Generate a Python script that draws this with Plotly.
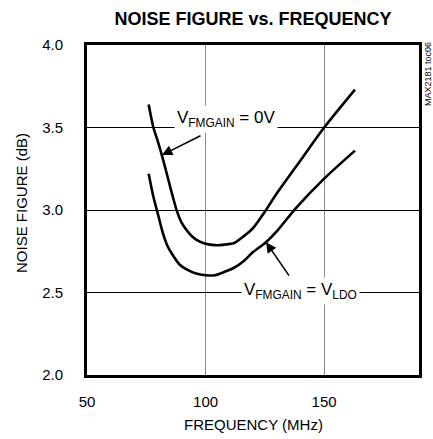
import plotly.graph_objects as go

# --- data ---
freq_0v = [76, 78, 80, 82, 84, 86, 88, 90, 93, 96, 100, 104, 108, 112, 116, 120, 125, 130, 140, 150, 163]
nf_0v = [3.64, 3.50, 3.41, 3.31, 3.20, 3.09, 2.99, 2.92, 2.86, 2.82, 2.795, 2.787, 2.79, 2.80, 2.84, 2.89, 2.99, 3.10, 3.30, 3.50, 3.73]

freq_ldo = [76, 78, 80, 82, 84, 86, 89, 92, 96, 100, 104, 108, 112, 116, 120, 125.5, 130, 138, 150, 163]
nf_ldo = [3.22, 3.08, 2.97, 2.86, 2.78, 2.73, 2.67, 2.64, 2.615, 2.605, 2.605, 2.625, 2.65, 2.69, 2.745, 2.805, 2.87, 3.01, 3.19, 3.36]

x_ticks = [50, 100, 150]
y_ticks = [2.0, 2.5, 3.0, 3.5, 4.0]

FONT = "Liberation Sans Narrow, Arial Narrow, Liberation Sans, Arial, sans-serif"

L, R, T, B, W, H = 87, 14, 45, 64, 433, 439
PW, PH = W - L - R, H - T - B


def px(xp):
    return (xp - L) / PW


def py(yp):
    return (H - B - yp) / PH


fig = go.Figure()
fig.add_trace(go.Scatter(x=freq_0v, y=nf_0v, mode="lines",
                         line=dict(color="black", width=2.6, shape="spline", smoothing=0.8),
                         showlegend=False, hoverinfo="skip"))
fig.add_trace(go.Scatter(x=freq_ldo, y=nf_ldo, mode="lines",
                         line=dict(color="black", width=2.6, shape="spline", smoothing=0.8),
                         showlegend=False, hoverinfo="skip"))

# curve labels (white boxes break the grid lines)
fig.add_annotation(x=108.8, y=3.55, text="V<sub>FMGAIN</sub> = 0V", showarrow=False,
                   xanchor="center", yanchor="middle",
                   font=dict(family=FONT, size=17, color="black"), bgcolor="white", borderpad=2)
fig.add_annotation(x=139.9, y=2.51, text="V<sub>FMGAIN</sub> = V<sub>LDO</sub>", showarrow=False,
                   xanchor="center", yanchor="middle",
                   font=dict(family=FONT, size=17, color="black"), bgcolor="white", borderpad=2)

# arrows
fig.add_annotation(x=81.6, y=3.333, text="", showarrow=True, ax=40, ay=-20,
                   arrowhead=2, arrowsize=1.3, arrowwidth=1.6, arrowcolor="black")
fig.add_annotation(x=125.5, y=2.805, text="", showarrow=True, ax=24, ay=35,
                   arrowhead=2, arrowsize=1.3, arrowwidth=1.6, arrowcolor="black")

fig.add_annotation(x=px(428), y=py(74), xref="paper", yref="paper",
                   xanchor="center", yanchor="middle",
                   text="MAX2181 toc06", showarrow=False, textangle=-90,
                   font=dict(family=FONT, size=9, color="black"))

# axis titles placed as text
fig.add_annotation(x=px(253), y=py(424), xref="paper", yref="paper",
                   xanchor="center", yanchor="middle",
                   text="FREQUENCY (MHz)", showarrow=False,
                   font=dict(family=FONT, size=15, color="black"))
fig.add_annotation(x=px(21), y=py(203), xref="paper", yref="paper",
                   xanchor="center", yanchor="middle",
                   text="NOISE FIGURE (dB)", showarrow=False, textangle=-90,
                   font=dict(family=FONT, size=15, color="black"))

fig.update_layout(
    width=W, height=H,
    margin=dict(l=L, r=R, t=T, b=B, autoexpand=False),
    paper_bgcolor="white", plot_bgcolor="white",
    font=dict(family=FONT, size=15, color="black"),
    title=dict(text="<b>NOISE FIGURE vs. FREQUENCY</b>", x=253 / W, xanchor="center",
               y=1 - 19 / H, yanchor="middle", yref="container",
               font=dict(family=FONT, size=18, color="black")),
)

fig.update_xaxes(range=[50, 190], tickvals=x_ticks, ticktext=[str(v) for v in x_ticks],
                 showgrid=True, gridcolor="#8a8a8a", gridwidth=1.2,
                 showline=True, linecolor="black", linewidth=3, mirror=True,
                 ticks="", ticklabelstandoff=11, zeroline=False, automargin=False,
                 tickfont=dict(family=FONT, size=15))
fig.update_yaxes(range=[2.0, 4.0], tickvals=y_ticks, ticktext=[f"{v:.1f}" for v in y_ticks],
                 showgrid=True, gridcolor="black", gridwidth=1,
                 showline=True, linecolor="black", linewidth=3, mirror=True,
                 ticks="", ticklabelstandoff=18, zeroline=False, automargin=False,
                 tickfont=dict(family=FONT, size=15))

fig.write_html("out.html", config={"displayModeBar": False},
               post_script="document.body.style.margin='0';document.body.style.overflow='hidden';")
